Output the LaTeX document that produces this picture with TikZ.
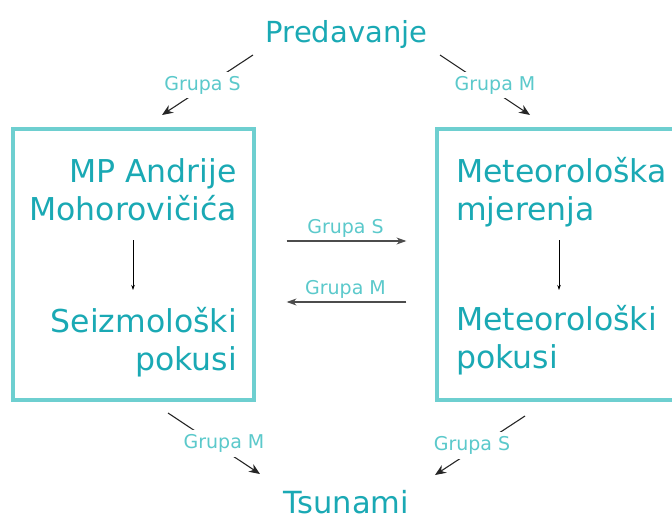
\documentclass[tikz,border=0pt]{standalone}
\usepackage{fontspec}
\setmainfont{DejaVu Sans}
\usetikzlibrary{
	calc,
	arrows.meta}

\definecolor{tealtxt}{HTML}{1AA9B4}
\definecolor{grptxt}{HTML}{5BC9CB}
\definecolor{boxcol}{HTML}{6ECFD0}

\begin{document}
\begin{tikzpicture}[x=1pt,y=-1pt,
    big/.style={font=\fontsize{29}{37}\selectfont, text=tealtxt, inner sep=0pt},
    boxtext/.style={font=\fontsize{31.5}{37.5}\selectfont, text=tealtxt, inner sep=0pt},
    grp/.style={font=\fontsize{19}{22}\selectfont, text=grptxt, fill=white, inner sep=4pt},
    grpabove/.style={font=\fontsize{19}{22}\selectfont, text=grptxt, inner sep=3pt},
    frame/.style={draw=boxcol, line width=3.2pt, inner sep=0pt},
    link/.style={draw=black!85, line width=1.1pt, -{Stealth[length=11pt,width=9pt]}},
    across/.style={draw=black!70, line width=1.2pt, -{Stealth[length=10pt,width=7pt]}},
    inside/.style={draw=black, line width=0.6pt, -{Stealth[length=5pt,width=3.5pt]}}]
  \clip (0,0) rectangle (672,519);

  % Boxes
  \node[frame, minimum width=241pt, minimum height=271pt] (boxL) at (133.5,264.5) {};
  \node[frame, minimum width=262pt, minimum height=271pt] (boxR) at (568,264.5) {};

  % Texts
  \node[big, anchor=base] (pred) at (346.5,43) {Predavanje};
  \node[big, font=\fontsize{30.5}{37}\selectfont, anchor=base] (tsun) at (346.5,513) {Tsunami};
  \node[boxtext, anchor=base east, align=right] (mpam) at (237,220) {MP Andrije\\Mohorovičića};
  \node[boxtext, anchor=base east, align=right] (seiz) at (237,370) {Seizmološki\\pokusi};
  \node[boxtext, anchor=base west, align=left] (metm) at (456,220) {Meteorološka\\mjerenja};
  \node[boxtext, anchor=base west, align=left] (metp) at (456,368) {Meteorološki\\pokusi};

  % Ends of the slanted links
  \coordinate (tl1) at (253,55);
  \coordinate (tl2) at (162,115);
  \coordinate (tr1) at (440,55);
  \coordinate (tr2) at (530,115);
  \coordinate (bl1) at (168,413);
  \coordinate (bl2) at (260,474);
  \coordinate (br1) at (525,416);
  \coordinate (br2) at (435,475);

  \draw [link] (tl1) to node[grp, xshift=-5pt] {Grupa S} (tl2);
  \draw [link] (tr1) to node[grp, xshift=10pt] {Grupa M} (tr2);
  \draw [link] (bl1) to node[grp, xshift=10pt] {Grupa M} (bl2);
  \draw [link] (br1) to node[grp, xshift=-8pt] {Grupa S} (br2);

  \draw [across, shorten <=31pt, shorten >=29pt] ($(boxL.east)+(0,-23.5)$) to node[grpabove, above] {Grupa S} ($(boxR.west)+(0,-23.5)$);
  \draw [across, shorten <=29pt, shorten >=31pt] ($(boxR.west)+(0,37.5)$) to node[grpabove, above] {Grupa M} ($(boxL.east)+(0,37.5)$);

  \draw [inside] (133,240) to (133,290);
  \draw [inside] (559,240) to (559,290);

\end{tikzpicture}
\end{document}
